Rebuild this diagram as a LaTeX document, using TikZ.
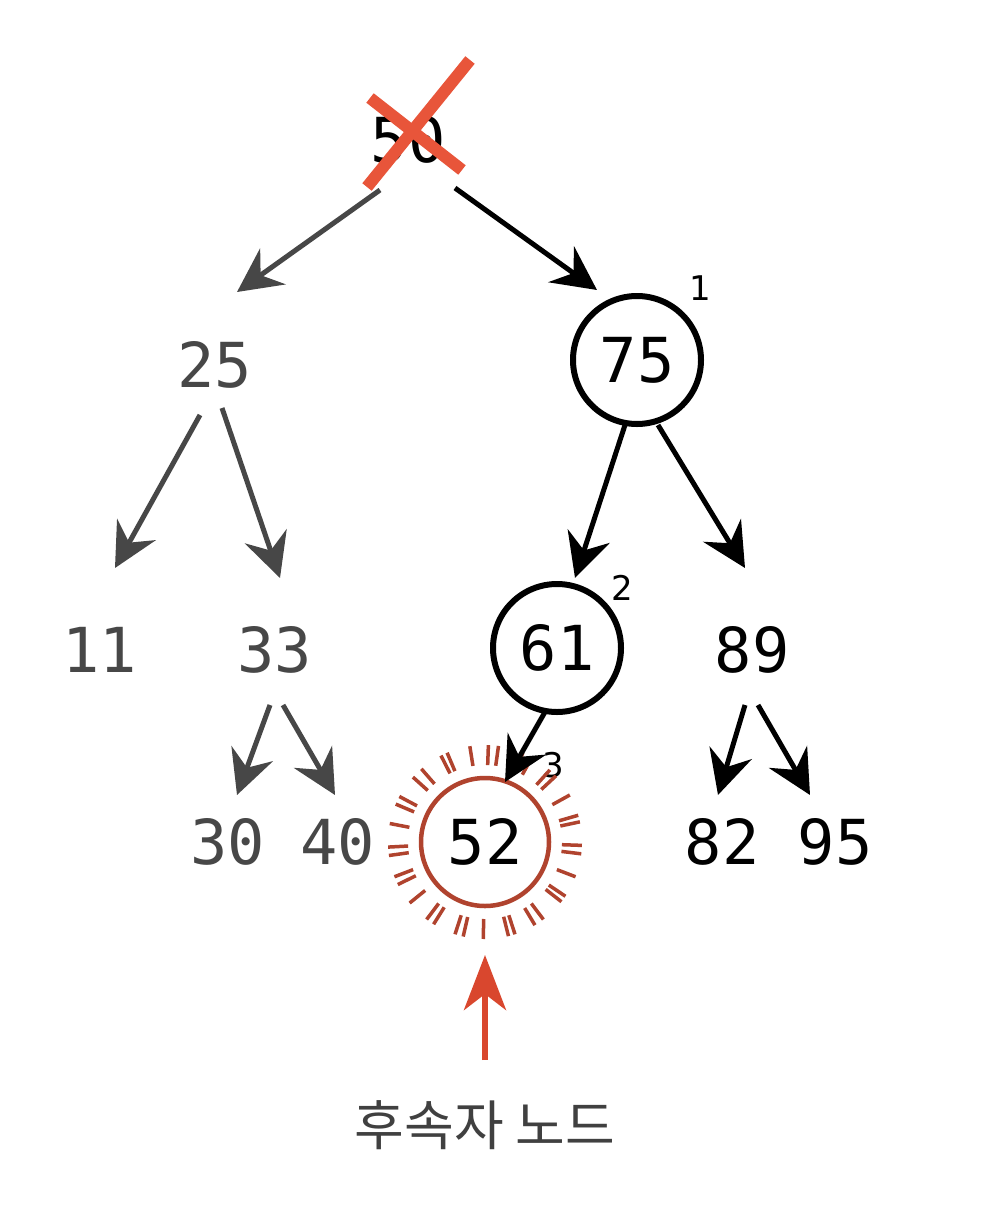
\documentclass[tikz,border=0pt]{standalone}
\usepackage{fontspec}
\setmonofont{DejaVu Sans Mono}
\setsansfont{DejaVu Sans}
\newfontfamily\kofont{Noto Sans CJK KR}
\usetikzlibrary{arrows.meta}
\definecolor{xred}{HTML}{E8553A}
\definecolor{succ}{HTML}{B0432E}
\definecolor{arrred}{HTML}{D9472E}
\begin{document}
\begin{tikzpicture}[x=1pt,y=-1pt,
  num/.style={font=\ttfamily\fontsize{62}{62}\selectfont, inner sep=0pt},
  grey/.style={text=black!72},
  ring/.style={circle, draw, line width=6pt, minimum size=128pt},
  edge/.style={line width=5pt, -{Stealth[length=44pt,width=44pt,inset=15pt]}},
  gedge/.style={edge, draw=black!72},
  sup/.style={font=\sffamily\fontsize{34}{34}\selectfont, inner sep=0pt}]
\useasboundingbox (0,0) rectangle (1000,1221);
\fill[white] (0,0) rectangle (1000,1221);
% nodes
\node[num] (n50) at (408,140) {50};
\node[num,grey] (n25) at (215,365) {25};
\node[num,ring] (n75) at (637,360) {75};
\node[num,grey] (n11) at (100,650) {11};
\node[num,grey] (n33) at (275,650) {33};
\node[num,ring] (n61) at (557,648) {61};
\node[num] (n89) at (752,650) {89};
\node[num,grey] (n30) at (228,842) {30};
\node[num,grey] (n40) at (338,842) {40};
\node[num,ring,draw=succ,line width=4.5pt] (n52) at (485,842) {52};
\node[num] (n82) at (722,842) {82};
\node[num] (n95) at (835,842) {95};
\node[sup] (s1) at (700,288) {1};
\node[sup] (s2) at (622,588) {2};
\node[sup] (s3) at (553,765) {3};
\node[font=\kofont\fontsize{54}{54}\selectfont, text=black!75, inner sep=0pt] (lbl) at (485,1125) {후속자 노드};
% rays around 52
\foreach \a/\j in {0/2,10/-3,20/1,30/4,40/-2,50/3,60/-1,70/2,80/-4,90/1,100/3,110/-2,120/2,130/-3,140/1,150/4,160/-1,170/2,180/-3,190/1,200/3,210/-2,220/2,230/-1,240/3,250/-3,260/1,270/2,280/-2,290/3,300/-1,310/2,320/-3,330/1,340/4,350/-2}
  \draw[succ, line width=3.5pt] ([shift={(\a+\j:77)}]n52.center) -- ([shift={(\a+\j:97)}]n52.center);
% connectors
\draw[gedge] ([shift={(-28,50)}]n50.center) -- ([shift={(22,-73)}]n25.center);
\draw[edge] ([shift={(47,48)}]n50.center) -- ([shift={(-40,-70)}]n75.center);
\draw[gedge] ([shift={(-15,50)}]n25.center) -- ([shift={(15,-82)}]n11.center);
\draw[gedge] ([shift={(7,43)}]n25.center) -- ([shift={(5,-72)}]n33.center);
\draw[edge] ([shift={(-12,65)}]n75.center) -- ([shift={(18,-70)}]n61.center);
\draw[edge] ([shift={(21,65)}]n75.center) -- ([shift={(-7,-82)}]n89.center);
\draw[gedge] ([shift={(-5,55)}]n33.center) -- ([shift={(9,-47)}]n30.center);
\draw[gedge] ([shift={(8,55)}]n33.center) -- ([shift={(-3,-47)}]n40.center);
\draw[edge] ([shift={(-12,64)}]n61.center) -- ([shift={(20,-60)}]n52.center);
\draw[edge] ([shift={(-7,55)}]n89.center) -- ([shift={(-4,-47)}]n82.center);
\draw[edge] ([shift={(6,55)}]n89.center) -- ([shift={(-25,-47)}]n95.center);
% red X over 50
\draw[xred, line width=12pt] ([shift={(62,-80)}]n50.center) -- ([shift={(-41,47)}]n50.center);
\draw[xred, line width=12pt] ([shift={(-38,-42)}]n50.center) -- ([shift={(54,30)}]n50.center);
% successor arrow
\draw[arrred, line width=6pt, -{Stealth[length=55pt,width=42pt,inset=16pt]}] ([yshift=65pt]lbl.center) -- ([yshift=-113pt]n52.center);
\end{tikzpicture}
\end{document}
